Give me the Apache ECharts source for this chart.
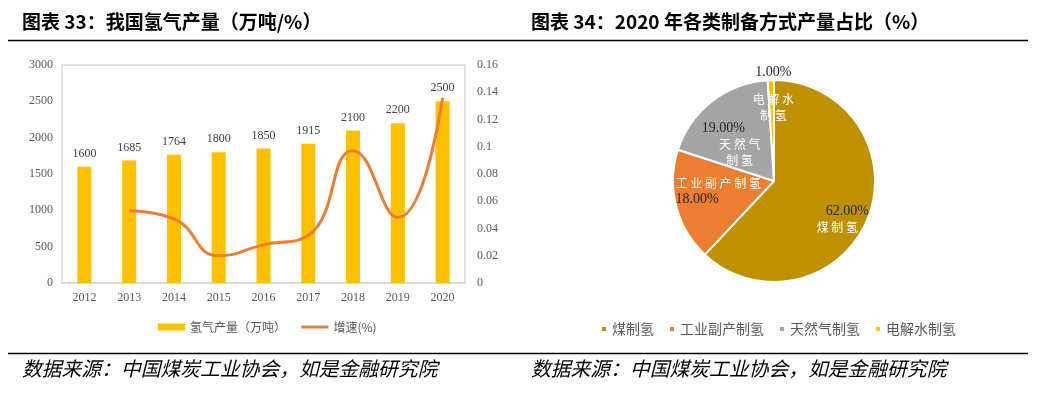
<!DOCTYPE html>
<html lang="zh">
<head>
    <meta charset="UTF-8">
    <script src="https://cdn.jsdelivr.net/npm/echarts@6/dist/echarts.min.js"></script>
    <title>氢气产量</title>
</head>
<body>
<style>
    html, body, #main {
        width: 100%;
        height: 100%;
        margin: 0;
        background: #fff;
    }
</style>
<div id='main'></div>
<script>
    // 图表33 数据
    var years = ['2012', '2013', '2014', '2015', '2016', '2017', '2018', '2019', '2020'];
    var output = [1600, 1685, 1764, 1800, 1850, 1915, 2100, 2200, 2500];
    var growth = [null, 0.053, 0.047, 0.020, 0.028, 0.035, 0.097, 0.048, 0.136];
    var leftTicks = [0, 3000, 500];
    var rightTicks = [0, 0.16, 0.02];

    // 图表34 数据
    var methods = ['煤制氢', '工业副产制氢', '天然气制氢', '电解水制氢'];
    var shares = [62, 18, 19, 1];

    var cjk = '"Noto Sans CJK SC", sans-serif';
    var serif = '"Liberation Serif", "DejaVu Serif", serif';

    var myChart = echarts.init(document.getElementById('main'));

    // 饼图标签的样式 (顺序/对齐/位置微调)
    var pieLabelStyle = [
        {order: 'pn', dx: 19, dy: 19, p: 'pR', n: 'nL'},
        {order: 'np', dx: -4, dy: -3, p: 'pL', n: 'nL'},
        {order: 'pn', dx: -9.5, dy: 6, wrap: 3, p: 'pW', n: 'nS'},
        {order: 'pn', dx: 1, dy: -28.5, wrap: 3, p: 'pG', n: 'nC'}
    ];

    var pieData = [];
    for (var i = 0; i < methods.length; i++) {
        pieData.push({name: methods[i], value: shares[i]});
    }

    var pctBase = {color: '#262626', fontSize: 14, fontFamily: serif, lineHeight: 16};
    var nameBase = {color: '#fff', fontSize: 12, fontFamily: cjk, lineHeight: 16};
    var source = '数据来源：中国煤炭工业协会，如是金融研究院';

    var option = {
        animation: false,
        color: ['#BF9000', '#ED7D31', '#A5A5A5', '#FFC000'],
        graphic: [
            {type: 'text', left: 22, top: 12, style: {text: '图表 33：我国氢气产量（万吨/%）', font: 'bold 19px ' + cjk, fill: '#000'}},
            {type: 'text', left: 531, top: 12, style: {text: '图表 34：2020 年各类制备方式产量占比（%）', font: 'bold 19px ' + cjk, fill: '#000'}},
            {type: 'line', shape: {x1: 8, y1: 40.5, x2: 1028, y2: 40.5}, style: {stroke: '#000', lineWidth: 1.5}},
            {type: 'line', shape: {x1: 8, y1: 353.5, x2: 1028, y2: 353.5}, style: {stroke: '#000', lineWidth: 1.5}},
            {type: 'text', left: 22, top: 359, style: {text: source, font: 'italic 19.8px ' + cjk, fill: '#000'}},
            {type: 'text', left: 531, top: 359, style: {text: source, font: 'italic 19.8px ' + cjk, fill: '#000'}}
        ],
        legend: [
            {
                left: 153,
                top: 316,
                itemWidth: 27,
                itemHeight: 7,
                itemGap: 14,
                data: [
                    {name: '氢气产量（万吨）', icon: 'rect'},
                    {
                        name: '增速(%)',
                        itemStyle: {color: 'transparent', borderColor: 'transparent', borderWidth: 0},
                        lineStyle: {color: '#ED7D31', width: 3}
                    }
                ],
                textStyle: {color: '#595959', fontSize: 12, fontFamily: cjk}
            },
            {
                left: 595,
                top: 317,
                itemWidth: 6,
                itemHeight: 6,
                itemGap: 14,
                icon: 'rect',
                data: methods,
                textStyle: {color: '#595959', fontSize: 14, fontFamily: cjk}
            }
        ],
        grid: {
            left: 62,
            right: 575,
            top: 65,
            bottom: 116,
            show: true,
            borderColor: '#D9D9D9',
            borderWidth: 1.5,
            backgroundColor: '#fff'
        },
        xAxis: {
            type: 'category',
            data: years,
            axisTick: {show: false},
            axisLine: {lineStyle: {color: '#D9D9D9', width: 1.5}},
            axisLabel: {color: '#595959', fontSize: 12, fontFamily: serif, margin: 9}
        },
        yAxis: [
            {
                type: 'value',
                min: leftTicks[0],
                max: leftTicks[1],
                interval: leftTicks[2],
                splitLine: {show: false},
                axisLabel: {
                    color: '#595959', fontSize: 12, fontFamily: serif, margin: 9,
                    formatter: function (v) {
                        return String(v);
                    }
                }
            },
            {
                type: 'value',
                min: rightTicks[0],
                max: rightTicks[1],
                interval: rightTicks[2],
                splitLine: {show: false},
                axisLabel: {
                    color: '#595959', fontSize: 12, fontFamily: serif, margin: 12,
                    formatter: function (v) {
                        return String(+v.toFixed(2));
                    }
                }
            }
        ],
        series: [
            {
                name: '氢气产量（万吨）',
                type: 'bar',
                data: output,
                barWidth: 14,
                itemStyle: {color: '#FFC000'},
                label: {
                    show: true,
                    position: 'top',
                    distance: 7,
                    color: '#404040',
                    fontSize: 12,
                    fontFamily: serif
                }
            },
            {
                name: '增速(%)',
                type: 'line',
                yAxisIndex: 1,
                data: growth,
                smooth: 0.5,
                symbol: 'none',
                lineStyle: {color: '#ED7D31', width: 3},
                itemStyle: {color: '#ED7D31'}
            },
            {
                type: 'pie',
                center: [774, 181],
                radius: [0, 101],
                startAngle: 90,
                clockwise: true,
                data: pieData,
                itemStyle: {borderColor: '#fff', borderWidth: 2},
                labelLine: {show: false},
                label: {
                    show: true,
                    position: 'inside',
                    overflow: 'none',
                    formatter: function (p) {
                        var st = pieLabelStyle[p.dataIndex];
                        var name = p.name;
                        if (st.wrap) {
                            name = name.slice(0, st.wrap) + '\n' + name.slice(st.wrap);
                        }
                        var pct = '{' + st.p + '|' + p.value.toFixed(2) + '%}';
                        var nm = name.split('\n').map(function (s) {
                            return '{' + st.n + '|' + s.split('').join(' ') + '}';
                        }).join('\n');
                        return st.order === 'pn' ? pct + '\n' + nm : nm + '\n' + pct;
                    },
                    rich: {
                        pR: Object.assign({align: 'right', padding: [0, 0, 0, 9]}, pctBase),
                        pL: Object.assign({align: 'left'}, pctBase),
                        pW: Object.assign({align: 'left', padding: [0, 17, 0, 0]}, pctBase),
                        pG: Object.assign({align: 'center', padding: [0, 0, 21, 0]}, pctBase),
                        nL: Object.assign({align: 'left'}, nameBase),
                        nS: Object.assign({align: 'center', padding: [0, 0, 0, 16]}, nameBase),
                        nC: Object.assign({align: 'center'}, nameBase)
                    }
                },
                labelLayout: function (params) {
                    var st = pieLabelStyle[params.dataIndex];
                    return {dx: st.dx, dy: st.dy};
                }
            }
        ]
    };

    myChart.setOption(option);
    window.onresize = myChart.resize;
</script>
</body>
</html>
